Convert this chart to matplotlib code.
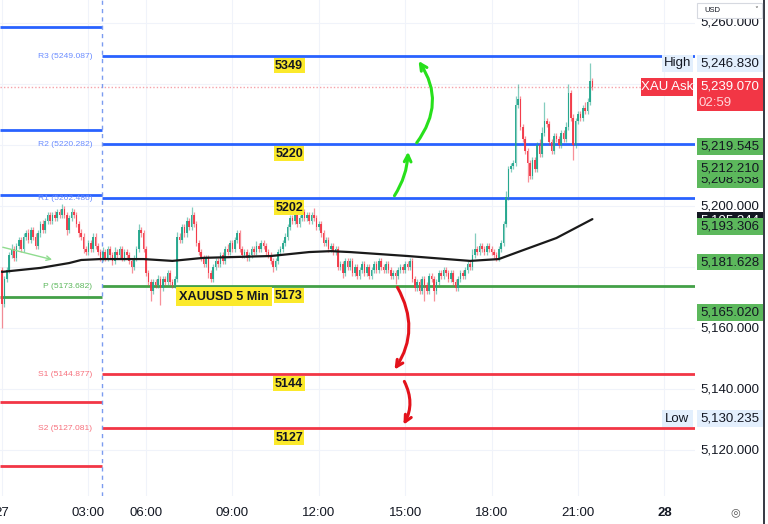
import matplotlib
matplotlib.use('Agg')
import matplotlib.pyplot as plt
from matplotlib.patches import Rectangle, FancyArrowPatch
from matplotlib.transforms import blended_transform_factory
import numpy as np

# ---------------- data ----------------
first_open = 5179
closes = [
    5168, 5176, 5179, 5184, 5186, 5183, 5187, 5189, 5186, 5190,
    5191, 5189, 5192, 5190, 5187, 5191, 5194, 5192, 5195, 5197,
    5195, 5197, 5196, 5198, 5197, 5199, 5197, 5192, 5196, 5198,
    5197, 5194, 5191, 5190, 5186, 5185, 5188, 5186, 5190, 5187,
    5185, 5183, 5185, 5183, 5186, 5184, 5182, 5185, 5184, 5186,
    5183, 5185, 5184, 5182, 5180, 5183, 5186, 5192, 5191, 5186,
    5178, 5175, 5172, 5175, 5174, 5176, 5173, 5176, 5175, 5178,
    5175, 5174, 5176, 5190, 5189, 5193, 5191, 5195, 5193, 5197,
    5194, 5188, 5185, 5183, 5181, 5183, 5178, 5176, 5180, 5182,
    5181, 5184, 5182, 5186, 5185, 5188, 5186, 5189, 5191, 5186,
    5184, 5185, 5183, 5184, 5186, 5185, 5187, 5186, 5188, 5187,
    5185, 5184, 5182, 5180, 5182, 5185, 5186, 5188, 5190, 5193,
    5196, 5195, 5197, 5194, 5196, 5198, 5196, 5197, 5195, 5197,
    5196, 5193, 5194, 5191, 5188, 5189, 5186, 5187, 5185, 5186,
    5180, 5181, 5178, 5182, 5180, 5182, 5178, 5180, 5177, 5179,
    5181, 5178, 5180, 5177, 5179, 5181, 5179, 5182, 5180, 5179,
    5181, 5179, 5177, 5178, 5177, 5179, 5180, 5179, 5181, 5180,
    5182, 5176, 5173, 5175, 5172, 5176, 5174, 5172, 5177, 5176,
    5172, 5175, 5178, 5177, 5179, 5178, 5176, 5178, 5175, 5173,
    5176, 5178, 5177, 5179, 5181, 5180, 5184, 5186, 5185, 5187,
    5186, 5185, 5187, 5186, 5185, 5184, 5183, 5186, 5188, 5194,
    5203, 5212, 5213, 5214, 5233, 5235, 5226, 5222, 5218, 5214,
    5210, 5215, 5212, 5220, 5217, 5224, 5228, 5227, 5221, 5218,
    5223, 5222, 5220, 5224, 5222, 5226, 5237, 5229, 5220, 5228,
    5230, 5229, 5232, 5231, 5234, 5241, 5239.07,
]
upper_wick = [
    1, 1, 1, 1, 1.5, 1, 1, 1, 1, 1,
    1, 1.5, 1, 1, 1, 1, 1, 1.5, 1, 1,
    1, 1, 1.5, 1, 1, 1.5, 1, 1, 1, 1.5,
    1, 1, 1, 1.5, 1, 1, 1, 1, 1, 1,
    1, 1, 1.5, 1, 1, 1, 1, 1.5, 1, 1,
    1, 1, 1, 1, 1, 1, 1, 2, 1, 1,
    1, 1, 1, 1, 1, 1.5, 1, 1, 1, 1,
    1, 1, 1, 1.5, 1, 1, 1, 1.5, 1, 2.7,
    1, 1, 1, 1, 1, 1, 1, 1, 1, 1,
    1, 1, 1, 1, 1.5, 1, 1, 1, 1, 1,
    1, 1, 1, 1, 1, 1, 1.5, 1, 1, 1,
    1, 1, 1, 1, 1, 1, 1, 1, 1, 1,
    1, 1, 1.5, 1, 1, 1.5, 1, 1, 1, 1,
    2.5, 1, 1, 1, 1, 1, 1, 1, 1, 1,
    1, 1, 1, 1, 1, 1, 1, 1, 1, 1,
    1, 1, 1, 1, 1, 1, 1, 1, 1, 1,
    1, 1, 1, 1, 1, 1, 1, 1, 1, 1,
    1, 1, 1, 1, 1, 1, 1, 1, 1, 1,
    1, 1, 1, 1, 1, 1, 1, 1, 1, 1,
    1, 1, 1, 1, 1, 1, 2, 5, 1, 1,
    1, 1, 1, 1, 1, 1, 1, 1, 1, 1,
    2, 1, 1, 1, 3, 5, 1, 1, 1, 1,
    1, 1, 1, 1, 2, 2, 6, 1, 1, 1,
    1, 1, 1, 1, 1, 1.5, 3, 1, 1, 1,
    1, 1, 1, 2, 1.5, 5.8, 1,
]
lower_wick = [
    8, 1, 1, 1, 1, 1, 1, 1, 1, 1,
    1, 1, 1, 1, 1, 1, 1, 1, 1, 1,
    1, 1, 1, 1, 1, 1, 1, 1.5, 1, 1,
    1, 1, 1, 1, 1.5, 1, 1, 1, 1, 1,
    1, 1, 1, 1, 1, 1, 1.5, 1, 1, 1,
    1, 1, 1, 1, 2, 1, 1, 1, 1, 1,
    1, 1, 3, 1, 1, 1, 5.5, 1, 1, 1,
    1, 1, 1, 1, 1, 1, 1, 1, 1, 1,
    1, 1, 1, 1, 1, 1, 1.5, 1, 1, 1,
    1, 1, 1, 1, 1, 1, 1, 1, 1, 1,
    1, 1, 1, 1, 1, 1, 1, 1, 1, 1,
    1, 1, 1, 1.5, 1, 1, 1, 1, 1, 1,
    1, 1, 1, 1, 1, 1, 1, 1, 1, 1,
    1, 1, 1, 1, 1, 1, 1, 1, 1, 1,
    1, 1, 1.5, 1, 1, 1, 1, 1, 1, 1,
    1, 1, 1, 1, 1, 1, 1, 1, 1, 1,
    1, 1, 1, 1, 2.5, 1, 1, 1, 1, 1,
    1, 1, 1, 1, 1, 1, 5, 1, 1, 1,
    3, 1, 1, 1, 1, 1, 1, 1, 1, 1,
    1, 1, 1, 1, 1, 1, 1, 1, 1, 1,
    1, 1, 1, 1, 1, 1, 1, 1, 1, 1,
    1, 1, 1, 1, 1, 1, 1, 1, 1, 6,
    1, 1, 1, 1, 1, 1, 1, 1, 1, 1,
    1, 1, 1, 1, 1, 1, 1, 1, 5, 1,
    1, 1, 1, 1, 1, 1, 1,
]

ma_idx = [0, 16, 28, 33, 41, 59, 71, 84, 112, 128, 137, 145, 169, 195, 207, 216, 231, 246]
ma_val = [5178.4, 5179.7, 5181.3, 5182.3, 5182.6, 5182.6, 5182.0, 5183.0, 5183.6,
          5184.9, 5185.2, 5184.9, 5183.6, 5182.0, 5182.6, 5185.2, 5189.5, 5195.7]

pivot_names = ['R3', 'R2', 'R1', 'P', 'S1', 'S2']
pivot_vals = [5249.087, 5220.282, 5202.486, 5173.682, 5144.877, 5127.081]
pivot_tags = ['5349', '5220', '5202', '5173', '5144', '5127']
prev_pivot_vals = [5258.7, 5224.9, 5203.6, 5170.2, 5135.7, 5114.8]

time_idx = [0, 36, 60, 96, 132, 168, 204, 240, 276]
time_labels = ['27', '03:00', '06:00', '09:00', '12:00', '15:00', '18:00', '21:00', '28']
grid_prices = [5260, 5240, 5220, 5200, 5180, 5160, 5140, 5120]
axis_prices = [5260, 5200, 5160, 5140, 5120]

session_start = 41.7
high_val = 5246.830
low_val = 5130.235
ask_val = 5239.070
ask_timer = '02:59'
green_tags = [5208.558, 5212.210, 5219.545, 5193.306, 5181.628, 5165.020]
ma_tag = 5195.344

# ---------------- figure ----------------
W, H = 768, 524
fig = plt.figure(figsize=(W / 100, H / 100), dpi=100)
fig.patch.set_facecolor('white')
ax = fig.add_axes([0, (H - 496) / H, 695 / W, 496 / H])
ax.set_xlim(-0.83, 288.75)
ax.set_ylim(5104.92, 5267.54)
for s in ax.spines.values():
    s.set_visible(False)
ax.set_yticks([])
ax.set_xticks(time_idx)
ax.set_xticklabels(time_labels, fontsize=9.5, family='Liberation Sans', color='#131722')
for lab in ax.get_xticklabels():
    if lab.get_text() == '28':
        lab.set_fontweight('bold')
ax.tick_params(axis='x', length=0, pad=8)

GRID = '#f0f3fa'
for p in grid_prices:
    ax.axhline(p, color=GRID, lw=0.8, zorder=0)
for t in time_idx:
    ax.axvline(t, color=GRID, lw=0.8, zorder=0)

level_colors = ['#2962ff', '#2962ff', '#2962ff', '#43a047', '#f23645', '#f23645']
label_colors = ['#6a8cff', '#6a8cff', '#6a8cff', '#5cb85c', '#f7707c', '#f7707c']
x0, x1 = ax.get_xlim()
for v, pv, c in zip(pivot_vals, prev_pivot_vals, level_colors):
    ax.plot([session_start, x1], [v, v], color=c, lw=2, zorder=2, solid_capstyle='butt')
    ax.plot([x0, session_start], [pv, pv], color=c, lw=2, zorder=2, solid_capstyle='butt')
ax.axvline(session_start, color='#7b9cf0', lw=1, ls=(0, (3, 3)), zorder=2)

for n, v, c in zip(pivot_names, pivot_vals, label_colors):
    ax.text(37.6, v, f'{n} ({v:.3f})', color=c, fontsize=6.1, family='Liberation Sans',
            ha='right', va='center', zorder=5)

# ask dotted line
ax.axhline(ask_val, color='#f5a3aa', lw=1, ls=(0, (1, 1.5)), zorder=1)

# candles
closes_a = np.array(closes, dtype=float)
opens_a = np.concatenate([[first_open], closes_a[:-1]])
highs_a = np.maximum(opens_a, closes_a) + np.array(upper_wick)
lows_a = np.minimum(opens_a, closes_a) - np.array(lower_wick)
idx = np.arange(len(closes_a))
up = closes_a >= opens_a
GREEN, RED = '#1fa58b', '#f23645'
cols = np.where(up, GREEN, RED)
ax.vlines(idx, lows_a, highs_a, colors=cols, lw=0.9, alpha=0.55, zorder=3)
bh = np.where(np.abs(closes_a - opens_a) < 0.3, 0.3, closes_a - opens_a)
ax.bar(idx, bh, bottom=opens_a, width=0.62, color=cols, alpha=0.92, zorder=3, linewidth=0)

# moving average
ax.plot(ma_idx, ma_val, color='#1a1a1a', lw=1.6, zorder=4, solid_capstyle='round')

# thin trend arrow top-left
ax.annotate('', xy=(22, 5182.2), xytext=(-0.8, 5186.7),
            arrowprops=dict(arrowstyle='->', color='#8fdc8f', lw=1, mutation_scale=8), zorder=4)

# yellow tags
for v, t in zip(pivot_vals, pivot_tags):
    ax.annotate(t, xy=(119.6, v), xytext=(0, -6.8), textcoords='offset points',
                ha='center', va='center', fontsize=9, fontweight='bold', family='Liberation Sans',
                color='#131722', zorder=6,
                bbox=dict(boxstyle='square,pad=0.12', fc='#fbe92b', ec='none'))
ax.annotate('XAUUSD 5 Min', xy=(92.5, pivot_vals[3]), xytext=(0, -7.6), textcoords='offset points',
            ha='center', va='center', fontsize=9.2, fontweight='bold', family='Liberation Sans',
            color='#131722', zorder=6,
            bbox=dict(boxstyle='square,pad=0.28', fc='#fbe92b', ec='none'))

# hand drawn arrows
def arrow(p0, p1, rad, color):
    a = FancyArrowPatch(p0, p1, connectionstyle=f'arc3,rad={rad}', arrowstyle='->',
                        mutation_scale=12, color=color, lw=2.2, zorder=7)
    ax.add_patch(a)

arrow((162.9, 5202.6), (169.2, 5218.7), 0.15, '#27e01b')
arrow((172.1, 5220.0), (172.9, 5248.3), 0.37, '#27e01b')
arrow((164.2, 5174.1), (162.9, 5145.6), -0.32, '#e3121b')
arrow((167.1, 5143.3), (166.7, 5127.5), -0.29, '#e3121b')

# ---------------- price scale ----------------
tr = blended_transform_factory(ax.transAxes, ax.transData)
def px_to_ax(px):
    return px / 695

FONT = dict(family='Liberation Sans', fontsize=9.5)
for p in axis_prices:
    ax.text(px_to_ax(730), p, f'{p:,.3f}', transform=tr, ha='center', va='center',
            color='#131722', clip_on=False, zorder=1, **FONT)

zc = [8]
def box(price, text, fc, tc, xl=697, xr=763, h=2.75, ec='none'):
    z = zc[0]
    zc[0] += 1
    ax.add_patch(Rectangle((px_to_ax(xl), price - h), px_to_ax(xr) - px_to_ax(xl), 2 * h,
                           transform=tr, fc=fc, ec=ec, lw=0.8, clip_on=False, zorder=z))
    ax.text(px_to_ax((xl + xr) / 2), price, text, transform=tr, ha='center', va='center',
            color=tc, clip_on=False, zorder=z + 0.5, **FONT)

LBLUE = '#e3effd'
TGREEN = '#5cb85c'
box(ma_tag, f'{ma_tag:,.3f}', '#131722', '#ffffff')
for v in green_tags:
    box(v, f'{v:,.3f}', TGREEN, '#131722')
box(high_val, f'{high_val:,.3f}', LBLUE, '#131722')
box(high_val, 'High', LBLUE, '#131722', xl=662, xr=693)
box(low_val, f'{low_val:,.3f}', LBLUE, '#131722')
box(low_val, 'Low', LBLUE, '#131722', xl=662, xr=693)
# ask label with timer
zt = zc[0]
ax.add_patch(Rectangle((px_to_ax(697), ask_val - 8.0), px_to_ax(763) - px_to_ax(697), 10.8,
                       transform=tr, fc='#f23645', ec='none', clip_on=False, zorder=zt))
ax.text(px_to_ax(730), ask_val, f'{ask_val:,.3f}', transform=tr, ha='center', va='center',
        color='white', clip_on=False, zorder=zt + 0.5, **FONT)
ax.text(px_to_ax(715), ask_val - 5.3, ask_timer, transform=tr, ha='center', va='center',
        color='#ffd6da', clip_on=False, zorder=zt + 0.5, **FONT)
zc[0] += 1
box(ask_val, 'XAU Ask', '#f23645', '#ffffff', xl=641, xr=693, h=2.9)

# USD box, border, gear
fig.patches.append(Rectangle((697 / W, 1 - 18 / H), 65 / W, 15 / H, transform=fig.transFigure,
                             fc='white', ec='#d6d9e0', lw=0.8, zorder=20))
fig.text(704 / W, 1 - 10.5 / H, 'USD', fontsize=5.5, color='#131722', va='center',
         family='Liberation Sans', zorder=21)
fig.text(756 / W, 1 - 10.5 / H, '˅', fontsize=5.5, color='#555', va='center', ha='center', zorder=21)
fig.add_artist(plt.Line2D([763.5 / W, 763.5 / W], [0, 1], color='#131722', lw=1.2))
fig.text(735 / W, 1 - 512 / H, '◎', fontsize=8, color='#555', ha='center', va='center')

fig.savefig('out.png', dpi=100, facecolor='white')
